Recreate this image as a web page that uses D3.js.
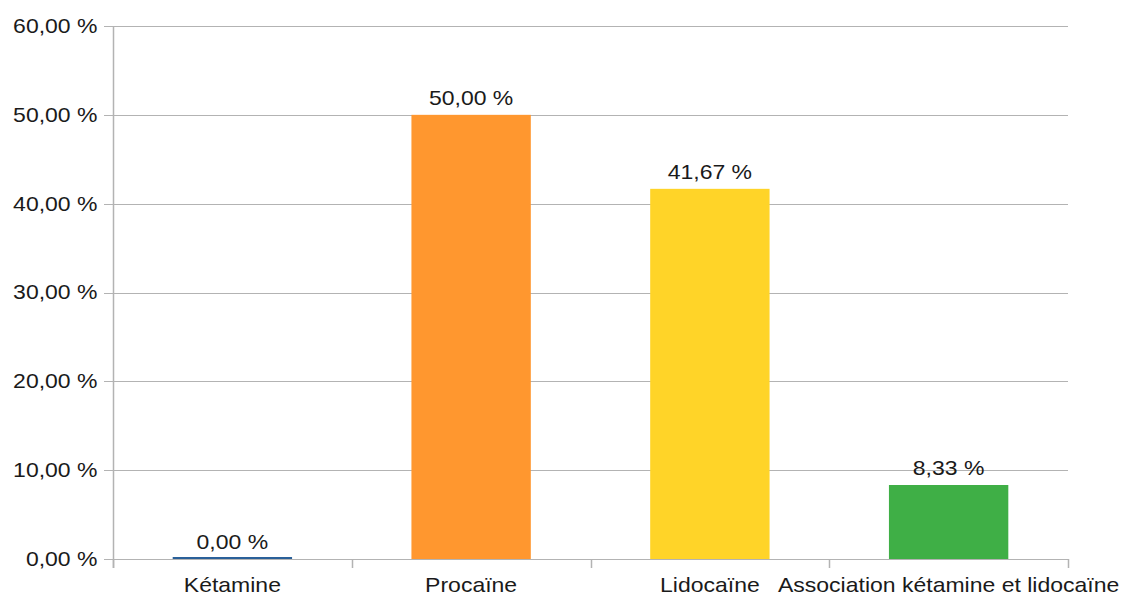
<!DOCTYPE html>
<html><head><meta charset="utf-8">
<script src="https://cdn.jsdelivr.net/npm/d3@7"></script>
<style>body{margin:0;background:#fff}svg{display:block}text{font-family:"Liberation Sans",Arial,sans-serif;fill:#1a1a1a}</style>
</head><body><svg id="c" width="1122" height="596"></svg>
<script>
const categories = ["Kétamine","Procaïne","Lidocaïne","Association kétamine et lidocaïne"];
const values = [0, 50, 41.67, 8.33];
const colors = ["#2a6099","#ff972f","#ffd428","#3faf46"];
const yTicks = [0,10,20,30,40,50,60];

const fmt = v => v.toFixed(2).replace(".", ",") + " %";
const svg = d3.select("#c");
const L=113, R=1068, T=26, B=559;
const FS = 20, SX = 1.15;
const x = d3.scaleBand().domain(categories).range([L,R]).paddingInner(0.5).paddingOuter(0.25);
const y = d3.scaleLinear().domain([0,60]).range([B,T]);
const grid = "#b3b3b3";

svg.append("g").selectAll("line").data(yTicks).join("line")
  .attr("x1",L-9).attr("x2",R).attr("y1",d=>Math.round(y(d))+0.5).attr("y2",d=>Math.round(y(d))+0.5)
  .attr("stroke",grid).attr("stroke-width",1);
svg.append("line").attr("x1",L+0.5).attr("x2",L+0.5).attr("y1",T).attr("y2",B+9).attr("stroke",grid).attr("stroke-width",1.5);
const bounds = d3.range(categories.length+1).map(i => L + i*x.step());
svg.append("g").selectAll("line").data(bounds).join("line")
  .attr("x1",d=>Math.round(d)+0.5).attr("x2",d=>Math.round(d)+0.5).attr("y1",B).attr("y2",B+9)
  .attr("stroke",grid).attr("stroke-width",1.5);

svg.append("g").selectAll("text").data(yTicks).join("text")
  .attr("transform",d=>`translate(97.5,${y(d)}) scale(${SX},1)`)
  .attr("text-anchor","end").attr("dominant-baseline","central")
  .attr("font-size",FS).text(fmt);

svg.append("g").selectAll("rect").data(values).join("rect")
  .attr("x",(d,i)=>x(categories[i])).attr("width",x.bandwidth())
  .attr("y",d=>Math.min(y(d), B-2)).attr("height",d=>Math.max(B-y(d),2))
  .attr("fill",(d,i)=>colors[i]);

svg.append("g").selectAll("text").data(values).join("text")
  .attr("transform",(d,i)=>`translate(${x(categories[i])+x.bandwidth()/2},${y(d)-10}) scale(${SX},1)`)
  .attr("text-anchor","middle").attr("font-size",FS).text(fmt);

svg.append("g").selectAll("text").data(categories).join("text")
  .attr("transform",d=>`translate(${x(d)+x.bandwidth()/2},592) scale(${SX},1)`)
  .attr("text-anchor","middle").attr("font-size",FS).text(d=>d);
</script></body></html>
